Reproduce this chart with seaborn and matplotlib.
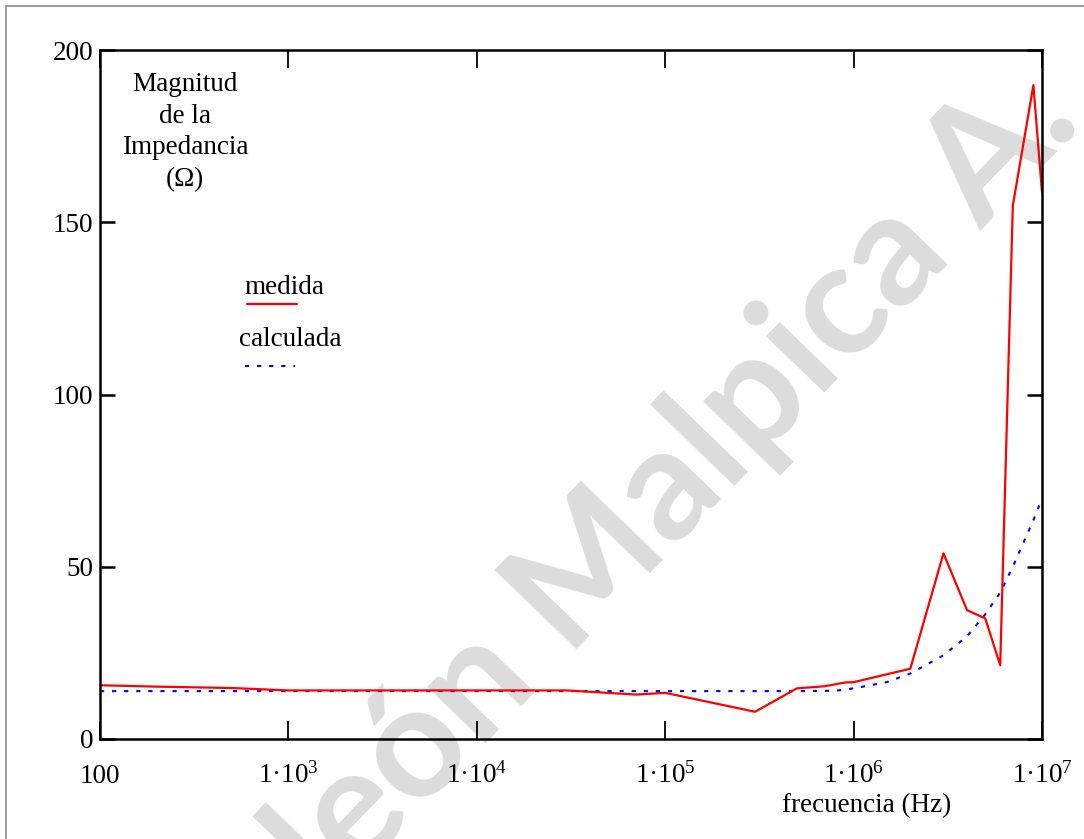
import matplotlib
matplotlib.use('Agg')
import matplotlib.pyplot as plt
import seaborn as sns
import pandas as pd
from matplotlib.lines import Line2D
from matplotlib.ticker import FixedLocator, FixedFormatter, NullLocator

# medida (measured) impedance magnitude, ohm
freq_med = [100, 200, 500, 1e3, 2e3, 5e3, 1e4, 2e4, 3e4, 7e4, 1e5, 3e5, 5e5,
            7e5, 9e5, 1e6, 2e6, 3e6, 4e6, 5e6, 6e6, 7e6, 9e6, 1e7]
z_med = [15.6, 15.2, 14.8, 14.1, 14.1, 14.1, 14.1, 14.1, 14.1, 12.9, 13.4, 7.9, 14.7,
         15.3, 16.4, 16.5, 20.4, 53.9, 37.4, 35.0, 21.4, 154.8, 189.8, 158.7]

# calculada (calculated)
freq_calc = [100, 1e3, 1e4, 1e5, 5e5, 8e5, 1e6, 1.5e6, 2e6, 3e6, 4e6, 5e6,
             6e6, 7e6, 8e6, 9e6, 1e7]
z_calc = [13.9, 13.9, 13.9, 13.9, 13.9, 14.0, 14.7, 16.5, 19.0, 24.3, 29.8, 36.2,
          42.5, 50.0, 57.2, 63.5, 69.8]

xticks = [1e2, 1e3, 1e4, 1e5, 1e6, 1e7]
xtick_labels = ['100', '1·10$^{3}$', '1·10$^{4}$', '1·10$^{5}$', '1·10$^{6}$', '1·10$^{7}$']
yticks = [0, 50, 100, 150, 200]

df_med = pd.DataFrame({'f': freq_med, 'z': z_med})
df_calc = pd.DataFrame({'f': freq_calc, 'z': z_calc})

sns.set_theme(style='white')
plt.rcParams['font.family'] = ['Liberation Serif', 'DejaVu Serif']
plt.rcParams['text.color'] = 'black'
plt.rcParams['mathtext.fontset'] = 'custom'
plt.rcParams['mathtext.rm'] = 'Liberation Serif'
plt.rcParams['mathtext.it'] = 'Liberation Serif:italic'
plt.rcParams['mathtext.default'] = 'regular'

FS = 19.5
W, H = 1084, 839
fig = plt.figure(figsize=(W / 100, H / 100), dpi=100)
fig.patch.set_facecolor('white')
ax = fig.add_axes([100 / W, 1 - 739 / H, 942 / W, 689 / H])
ax.patch.set_alpha(0)

# watermark, behind everything
fig.text(1084 / W, 1 - 124 / H, 'Napoleón Malpica A.', fontsize=114, color='#dcdcdc',
         family=['Liberation Sans Narrow', 'Lato'], weight='bold', rotation=46,
         rotation_mode='anchor', ha='right', va='baseline', zorder=-1)

sns.lineplot(data=df_calc, x='f', y='z', ax=ax, color='#0000ff', lw=1.5,
             estimator=None, sort=False)
ax.lines[-1].set_dashes([2.0, 3.8])
sns.lineplot(data=df_med, x='f', y='z', ax=ax, color='#ff0000', lw=1.6,
             estimator=None, sort=False)

ax.set_xscale('log')
ax.set_xlim(100, 1e7)
ax.set_ylim(0, 200)
ax.xaxis.set_major_locator(FixedLocator(xticks))
ax.xaxis.set_major_formatter(FixedFormatter(xtick_labels))
ax.xaxis.set_minor_locator(NullLocator())
ax.set_yticks(yticks)
ax.set_xlabel('')
ax.set_ylabel('')

for s in ax.spines.values():
    s.set_color('black')
    s.set_linewidth(1.8)
ax.tick_params(axis='x', which='major', direction='in', length=13, width=1.3,
               top=True, bottom=True, labelsize=FS, pad=31.5, colors='black')
ax.tick_params(axis='y', which='major', direction='in', length=11, width=1.8,
               left=True, right=True, labelsize=FS, pad=5, colors='black')
# x tick labels share one baseline, as in the original
for lbl in ax.get_xticklabels():
    lbl.set_verticalalignment('baseline')

def fx(px):
    return (px - 100) / 942

def fy(py):
    return (739 - py) / 689

# y axis title inside the plot, Mathcad style
ax.text(fx(185), fy(72), 'Magnitud\nde la\nImpedancia\n(Ω)', transform=ax.transAxes,
        ha='center', va='top', fontsize=FS, linespacing=1.35, multialignment='center')

# legend drawn Mathcad style: label above the line sample
ax.text(fx(284), fy(287), 'medida', transform=ax.transAxes, ha='center', va='center',
        fontsize=FS)
ax.add_line(Line2D([fx(247), fx(297)], [fy(304), fy(304)], transform=ax.transAxes,
                   color='#ff0000', lw=1.6))
ax.text(fx(290), fy(340), 'calculada', transform=ax.transAxes, ha='center', va='center',
        fontsize=FS)
ax.add_line(Line2D([fx(245), fx(295)], [fy(366), fy(366)], transform=ax.transAxes,
                   color='#0000ff', lw=1.5, dashes=[2.0, 3.8]))

ax.text(fx(867), fy(806), 'frecuencia (Hz)', transform=ax.transAxes, ha='center',
        va='center', fontsize=FS)

# outer frame (left and top edges visible)
fig.add_artist(Line2D([6 / W, 6 / W], [0, 1 - 6 / H], color='#8c8c8c', lw=1.2))
fig.add_artist(Line2D([6 / W, 1], [1 - 6 / H, 1 - 6 / H], color='#8c8c8c', lw=1.2))

fig.savefig('out.png', dpi=100)
